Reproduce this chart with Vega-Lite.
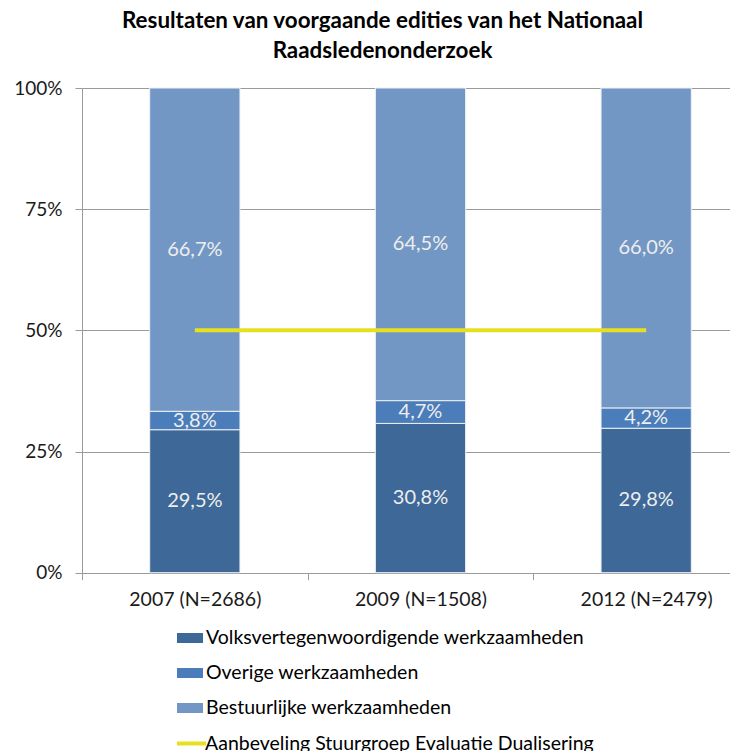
{
  "$schema": "https://vega.github.io/schema/vega-lite/v6.json",
  "width": 643,
  "height": 484.7,
  "autosize": {"type": "none"},
  "padding": {"left": 82, "top": 88, "right": 5, "bottom": 178.3},
  "background": "white",
  "title": {
    "text": ["Resultaten van voorgaande edities van het Nationaal", "Raadsledenonderzoek"],
    "font": "Lato",
    "fontSize": 22.4,
    "fontWeight": "bold",
    "color": "#000000",
    "anchor": "middle",
    "dx": -21,
    "offset": 17,
    "lineHeight": 30
  },
  "config": {
    "view": {"stroke": null},
    "font": "Lato",
    "axis": {"labelFont": "Lato", "labelFontSize": 19, "labelColor": "#1a1a1a", "gridColor": "#9a9a9a", "domainColor": "#9a9a9a", "tickColor": "#9a9a9a", "tickSize": 7}
  },
  "datasets": {
    "bars": [
      {"year": "2007 (N=2686)", "category": "Volksvertegenwoordigende werkzaamheden", "o": 1, "pct": 29.5},
      {"year": "2007 (N=2686)", "category": "Overige werkzaamheden", "o": 2, "pct": 3.8},
      {"year": "2007 (N=2686)", "category": "Bestuurlijke werkzaamheden", "o": 3, "pct": 66.7},
      {"year": "2009 (N=1508)", "category": "Volksvertegenwoordigende werkzaamheden", "o": 1, "pct": 30.8},
      {"year": "2009 (N=1508)", "category": "Overige werkzaamheden", "o": 2, "pct": 4.7},
      {"year": "2009 (N=1508)", "category": "Bestuurlijke werkzaamheden", "o": 3, "pct": 64.5},
      {"year": "2012 (N=2479)", "category": "Volksvertegenwoordigende werkzaamheden", "o": 1, "pct": 29.8},
      {"year": "2012 (N=2479)", "category": "Overige werkzaamheden", "o": 2, "pct": 4.2},
      {"year": "2012 (N=2479)", "category": "Bestuurlijke werkzaamheden", "o": 3, "pct": 66.0}
    ],
    "advice": [
      {"year": "2007 (N=2686)", "series": "Aanbeveling Stuurgroep Evaluatie Dualisering", "value": 50},
      {"year": "2009 (N=1508)", "series": "Aanbeveling Stuurgroep Evaluatie Dualisering", "value": 50},
      {"year": "2012 (N=2479)", "series": "Aanbeveling Stuurgroep Evaluatie Dualisering", "value": 50}
    ]
  },
  "layer": [
    {
      "data": {"name": "bars"},
      "transform": [
        {"stack": "pct", "groupby": ["year"], "sort": [{"field": "o"}], "as": ["y0", "y1"]}
      ],
      "mark": {"type": "bar", "width": {"band": 0.4}, "stroke": "#eef1f5", "strokeWidth": 1},
      "encoding": {
        "x": {
          "field": "year", "type": "nominal", "sort": null,
          "scale": {"range": [0, 677], "paddingInner": 0, "paddingOuter": 0},
          "axis": {"title": null, "labelAngle": 0, "tickBand": "extent", "domain": false, "labelPadding": 11, "labelFontSize": 19.5}
        },
        "y": {
          "field": "y0", "type": "quantitative",
          "scale": {"domain": [0, 100], "nice": false},
          "axis": {"title": null, "values": [0, 25, 50, 75, 100], "labelExpr": "datum.value + '%'", "grid": true, "domain": true, "labelPadding": 13}
        },
        "y2": {"field": "y1"},
        "fill": {
          "field": "category", "type": "nominal",
          "scale": {
            "domain": ["Volksvertegenwoordigende werkzaamheden", "Overige werkzaamheden", "Bestuurlijke werkzaamheden"],
            "range": ["#3d6897", "#4a7db9", "#7397c4"]
          },
          "legend": {
            "orient": "none", "legendX": 98, "legendY": 540, "title": null,
            "symbolType": "M-1.3,-0.5H1.3V0.5H-1.3Z", "symbolSize": 400, "symbolStrokeWidth": 0,
            "labelFont": "Lato", "labelFontSize": 19.5, "labelColor": "#000000", "rowPadding": 15, "labelOffset": 6, "labelLimit": 0
          }
        }
      }
    },
    {
      "data": {"name": "bars"},
      "transform": [
        {"stack": "pct", "groupby": ["year"], "sort": [{"field": "o"}], "as": ["y0", "y1"]},
        {"calculate": "(datum.y0 + datum.y1) / 2", "as": "mid"},
        {"calculate": "replace(format(datum.pct, '.1f'), '.', ',') + '%'", "as": "lbl"}
      ],
      "mark": {"type": "text", "fontSize": 20, "font": "Lato", "color": "#eeeeee", "baseline": "middle", "align": "center"},
      "encoding": {
        "x": {"field": "year", "type": "nominal", "sort": null},
        "y": {"field": "mid", "type": "quantitative", "title": null},
        "text": {"field": "lbl"}
      }
    },
    {
      "data": {"name": "advice"},
      "mark": {"type": "line", "strokeWidth": 4},
      "encoding": {
        "x": {"field": "year", "type": "nominal", "sort": null},
        "y": {"field": "value", "type": "quantitative", "title": null},
        "stroke": {
          "field": "series", "type": "nominal",
          "scale": {"range": ["#e6e01e"]},
          "legend": {
            "orient": "none", "legendX": 93, "legendY": 639, "title": null,
            "symbolType": "stroke", "symbolSize": 841, "symbolStrokeWidth": 4,
            "labelFont": "Lato", "labelFontSize": 19.5, "labelColor": "#000000", "labelOffset": -3, "labelLimit": 0
          }
        }
      }
    }
  ]
}
